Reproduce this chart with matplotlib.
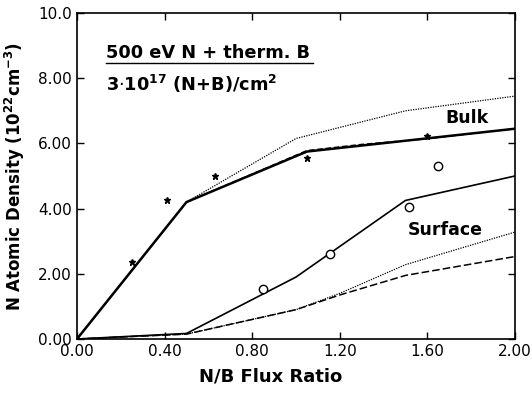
import matplotlib
matplotlib.use("Agg")
import matplotlib.pyplot as plt

# ---- data ----
bulk_x_solid = [0.0, 0.5, 1.05, 2.0]
bulk_y_solid = [0.0, 4.2, 5.75, 6.45]
bulk_x_dash = [0.0, 0.5, 1.05, 1.3, 1.58, 2.0]
bulk_y_dash = [0.0, 4.2, 5.78, 5.97, 6.13, 6.45]
bulk_x_dot = [0.0, 0.5, 1.0, 1.5, 2.0]
bulk_y_dot = [0.0, 4.2, 6.15, 7.0, 7.45]

surf_x_solid = [0.0, 0.5, 1.0, 1.5, 2.0]
surf_y_solid = [0.0, 0.17, 1.9, 4.25, 5.0]
surf_x_dash = [0.0, 0.5, 1.0, 1.2, 1.5, 2.0]
surf_y_dash = [0.0, 0.15, 0.9, 1.35, 1.95, 2.53]
surf_x_dot = [0.0, 0.5, 1.0, 1.2, 1.5, 2.0]
surf_y_dot = [0.0, 0.15, 0.9, 1.4, 2.28, 3.28]

star_x = [0.25, 0.41, 0.63, 1.05, 1.6]
star_y = [2.36, 4.26, 5.0, 5.55, 6.23]
circ_x = [0.85, 1.155, 1.516, 1.65]
circ_y = [1.53, 2.6, 4.05, 5.3]

xticks = [0.0, 0.4, 0.8, 1.2, 1.6, 2.0]
xtick_labels = ["0.00", "0.40", "0.80", "1.20", "1.60", "2.00"]
yticks = [0, 2, 4, 6, 8, 10]
ytick_labels = ["0.00", "2.00", "4.00", "6.00", "8.00", "10.0"]

fig = plt.figure(figsize=(5.32, 3.94), dpi=100)
ax = fig.add_axes([0.1447, 0.1396, 0.8233, 0.8274])

ax.plot(bulk_x_dot, bulk_y_dot, color="k", lw=0.9, ls=(0, (1, 1)))
ax.plot(bulk_x_dash, bulk_y_dash, color="k", lw=1.0, ls=(0, (4, 2)))
ax.plot(bulk_x_solid, bulk_y_solid, color="k", lw=1.8)

ax.plot(surf_x_dot, surf_y_dot, color="k", lw=0.9, ls=(0, (1, 1)))
ax.plot(surf_x_dash, surf_y_dash, color="k", lw=1.1, ls=(0, (5, 2)))
ax.plot(surf_x_solid, surf_y_solid, color="k", lw=1.2)

ax.plot(star_x, star_y, ls="none", marker="*", ms=5, color="k")
ax.plot(circ_x, circ_y, ls="none", marker="o", ms=6, mfc="white", mec="k", mew=1.0)

ax.set_xlim(0, 2.0)
ax.set_ylim(0, 10.0)
ax.set_xticks(xticks)
ax.set_xticklabels(xtick_labels)
ax.set_yticks(yticks)
ax.set_yticklabels(ytick_labels)
ax.tick_params(direction="in", top=True, right=True, length=5, width=1,
               labelsize=11)
for s in ax.spines.values():
    s.set_linewidth(1.2)

fig.text(0.508, 0.045, "N/B Flux Ratio", fontsize=13, fontweight="bold",
         ha="center", va="center")
ax.set_ylabel(r"N Atomic Density (10$^{\mathbf{22}}$cm$^{\mathbf{-3}}$)",
              fontsize=12, fontweight="bold", labelpad=8)

ax.text(0.066, 0.862, "500 eV N + therm. B", transform=ax.transAxes,
        fontsize=12.8, fontweight="bold")
ax.plot([0.066, 0.539], [0.848, 0.848], transform=ax.transAxes, color="k", lw=1.0)
ax.text(0.066, 0.76, r"3$\cdot$10$^{\mathbf{17}}$ (N+B)/cm$^{\mathbf{2}}$",
        transform=ax.transAxes, fontsize=12.8, fontweight="bold")
ax.text(1.68, 6.78, "Bulk", fontsize=12.5, fontweight="bold", va="center")
ax.text(1.51, 3.34, "Surface", fontsize=12.5, fontweight="bold", va="center")

fig.savefig("out.png", dpi=100)
